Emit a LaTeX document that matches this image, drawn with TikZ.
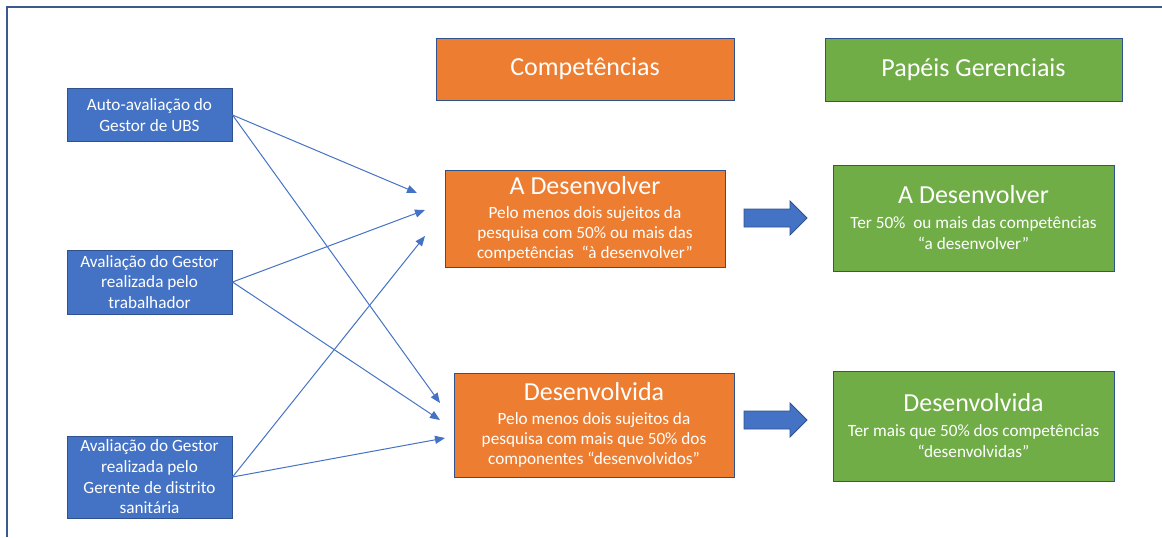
\documentclass[tikz,border=0pt]{standalone}
\usepackage{fontspec}
\setmainfont{Carlito}
\usetikzlibrary{arrows.meta}
\definecolor{azul}{HTML}{4472C4}
\definecolor{azulesc}{HTML}{2F528F}
\definecolor{laranja}{HTML}{ED7D31}
\definecolor{verde}{HTML}{70AD47}
\definecolor{moldura}{HTML}{3B5A8C}
\newcommand{\tit}[1]{{\fontsize{13}{15}\selectfont #1}}

\begin{document}
\begin{tikzpicture}[x=0.5pt,y=-0.5pt,
  caixa/.style={draw=azulesc,line width=0.5pt,text=white,align=center,inner sep=0pt},
  ava/.style={caixa,fill=azul,minimum width=82.5pt,font=\fontsize{8.6}{10.35}\selectfont},
  comp/.style={caixa,fill=laranja,minimum width=140pt,font=\fontsize{8.6}{10}\selectfont},
  papel/.style={caixa,fill=verde,minimum width=140.5pt,font=\fontsize{8.6}{10.5}\selectfont},
  seta/.style={azul,line width=0.5pt,-{Triangle[length=5pt,width=4pt]}},
  blocoseta/.style={fill=azul,draw=azulesc,line width=0.4pt}]
\useasboundingbox (0,0) rectangle (1162,537);
\draw[moldura,line width=0.8pt] (7,537) -- (7,7) -- (1162,7);
% avaliacoes
\node[ava,minimum height=26.5pt] (ava1) at (149.5,115) {Auto-avaliação do\\Gestor de UBS};
\node[ava,minimum height=32pt] (ava2) at (149.5,282) {Avaliação do Gestor\\realizada pelo\\trabalhador};
\node[ava,minimum height=41pt] (ava3) at (149.5,477) {Avaliação do Gestor\\realizada pelo\\Gerente de distrito\\sanitária};
% cabecalhos
\node[comp,minimum width=149pt,minimum height=31pt] (comp) at (585,69) {\tit{Competências}};
\node[papel,minimum width=148.5pt,minimum height=31.5pt] (papeis) at (973.5,69.5) {\tit{Papéis Gerenciais}};
% competencias
\node[comp,minimum height=48.5pt] (cdes) at (585,218.5) {\tit{A Desenvolver}\\[2pt]
  Pelo menos dois sujeitos da\\pesquisa com 50\% ou mais das\\competências \ “à desenvolver”};
\node[comp,minimum height=52pt] (cdvd) at (594,425) {\tit{Desenvolvida}\\[2pt]
  Pelo menos dois sujeitos da\\pesquisa com mais que 50\% dos\\componentes “desenvolvidos”};
% papeis
\node[papel,minimum height=53pt] (pdes) at (973.5,218) {\tit{A Desenvolver}\\[2pt]
  Ter 50\% \ ou mais das competências\\“a desenvolver”};
\node[papel,minimum height=55pt] (pdvd) at (973.5,426) {\tit{Desenvolvida}\\[2pt]
  Ter mais que 50\% dos competências\\“desenvolvidas”};
% pontas das setas
\coordinate (t11) at (417,193);
\coordinate (t12) at (440,403);
\coordinate (t21) at (425,210);
\coordinate (t22) at (440,420);
\coordinate (t31) at (425,236);
\coordinate (t32) at (445,438);
\draw[seta] (ava1.east) -- (t11);
\draw[seta] (ava1.east) -- (t12);
\draw[seta] (ava2.east) -- (t21);
\draw[seta] (ava2.east) -- (t22);
\draw[seta] (ava3.east) -- (t31);
\draw[seta] (ava3.east) -- (t32);
% setas grandes
\draw[blocoseta] (744,209) -- (790,209) -- (790,201) -- (807,218) -- (790,235) -- (790,227) -- (744,227) -- cycle;
\draw[blocoseta] (744,411) -- (790,411) -- (790,403) -- (807,420) -- (790,437) -- (790,429) -- (744,429) -- cycle;
\end{tikzpicture}
\end{document}
